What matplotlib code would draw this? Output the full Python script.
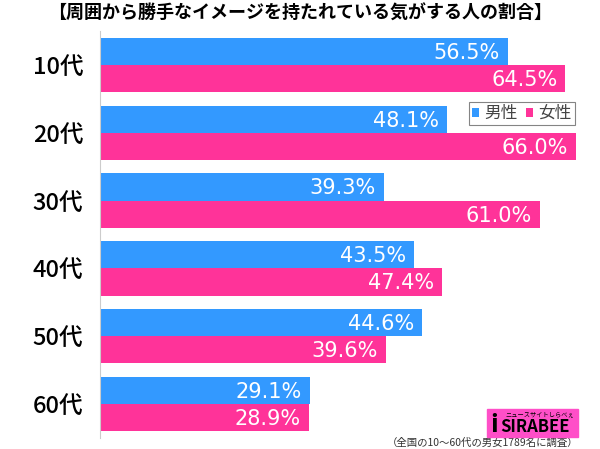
import matplotlib.pyplot as plt
from matplotlib.patches import Rectangle

plt.rcParams['font.family'] = ['Noto Sans CJK JP', 'DejaVu Sans']

title = "【周囲から勝手なイメージを持たれている気がする人の割合】"
ages = ["10代", "20代", "30代", "40代", "50代", "60代"]
male = [56.5, 48.1, 39.3, 43.5, 44.6, 29.1]
female = [64.5, 66.0, 61.0, 47.4, 39.6, 28.9]
series_names = ["男性", "女性"]
note = "（全国の10～60代の男女1789名に調査）"

blue = "#3399ff"
pink = "#ff3399"

fig = plt.figure(figsize=(6, 4.49), dpi=100)
ax = fig.add_axes([100 / 600, 1 - 438 / 449, 500 / 600, 407 / 449])

h = 0.4
ys = range(len(ages))
bm = ax.barh([y - h / 2 for y in ys], male, height=h, color=blue, label=series_names[0])
bf = ax.barh([y + h / 2 for y in ys], female, height=h, color=pink, label=series_names[1])

for bars, vals in ((bm, male), (bf, female)):
    for b, v in zip(bars, vals):
        ax.text(b.get_width() - 1.1, b.get_y() + b.get_height() / 2 + 0.02, f"{v:.1f}%",
                ha="right", va="center", color="white", fontsize=15, family="DejaVu Sans")

ax.set_xlim(0, 69.3)
ax.set_ylim(len(ages) - 0.5, -0.5)
ax.set_yticks(list(ys))
ax.set_yticklabels(ages, fontsize=17, fontweight="medium")
ax.tick_params(axis="y", length=0, pad=12)
ax.set_xticks([])
for s in ("top", "right", "bottom"):
    ax.spines[s].set_visible(False)
ax.spines["left"].set_color("#cccccc")

leg = ax.legend(loc="upper right", bbox_to_anchor=(0.95, 0.826), fontsize=12,
                handlelength=0.45, handleheight=0.45, handletextpad=0.3,
                columnspacing=0.5, ncol=2, fancybox=False, borderpad=0.2,
                borderaxespad=0)
leg.get_frame().set_edgecolor("#666666")
leg.get_frame().set_linewidth(0.8)
for t in leg.get_texts():
    t.set_color("#444444")

fig.text(0.5, 1 - 13 / 449, title, ha="center", va="center", fontsize=13, fontweight="bold")
fig.text(578 / 600, 1 - 443 / 449, note, ha="right", va="center", fontsize=7.5, color="#333333")

# logo
fig.patches.append(Rectangle((487 / 600, 1 - 437 / 449), 91 / 600, 28 / 449,
                             transform=fig.transFigure, color="#ff4fc8", zorder=5))
fig.text(494 / 600, 1 - 425 / 449, "i", fontsize=18, fontweight="bold", color="black",
         ha="center", va="center", zorder=6)
fig.text(535 / 600, 1 - 427 / 449, "SIRABEE", fontsize=12, fontweight="bold", fontstyle="italic",
         color="black", ha="center", va="center", zorder=6)
fig.text(540 / 600, 1 - 414 / 449, "ニュースサイトしらべぇ", fontsize=4.5, color="black",
         ha="center", va="center", zorder=6)

fig.savefig("out.png", dpi=100)
